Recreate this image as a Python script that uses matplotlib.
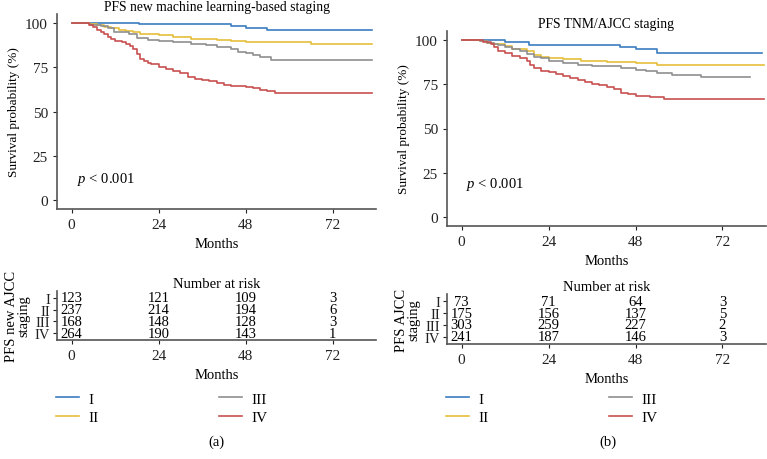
import matplotlib
matplotlib.use('Agg')
import matplotlib.pyplot as plt

plt.rcParams['font.family'] = ['Liberation Serif', 'DejaVu Serif']
plt.rcParams['mathtext.fontset'] = 'custom'
plt.rcParams['mathtext.it'] = 'Liberation Serif:italic'
plt.rcParams['mathtext.rm'] = 'Liberation Serif'

stages = ['I', 'II', 'III', 'IV']
colors = ['#3b7dc0', '#e6bf3c', '#8f8f8f', '#c8504f']
ticks = [0, 24, 48, 72]

# (a) new machine learning-based staging: step curves (months, survival %)
a_times = {
    'I': [0, 18.6, 43.9, 48.0, 54.0, 83.0],
    'II': [0, 5, 7, 9, 11, 13, 15, 17, 19, 21, 24, 28, 33, 40, 44, 48, 55, 66, 83.0],
    'III': [0, 5, 8, 10, 11.7, 15.8, 18, 21, 24, 28, 33, 37, 40, 44, 46, 48, 50, 52, 55, 83.0],
    'IV': [0, 4.8, 6, 7, 8, 9, 10, 11, 12, 14, 15, 16, 17, 18, 19, 20, 21, 22, 24, 26, 28,
           30, 32, 34, 36, 38, 40, 42, 44, 48, 50, 52, 54, 56, 83.0],
}
a_surv = {
    'I': [100, 99.1, 98.1, 97.2, 96.2, 96.2],
    'II': [100, 99.5, 98.8, 97.8, 97.0, 96.0, 95.3, 94.7, 94.0, 93.5, 93.0, 92.0, 91.0,
           90.3, 89.6, 89.4, 89.2, 87.9, 87.9],
    'III': [100, 99.0, 98.2, 97.0, 94.7, 93.5, 91.3, 90.3, 89.5, 89.0, 88.3, 87.6, 86.5,
            85.0, 83.7, 83.0, 82.0, 80.8, 78.8, 78.8],
    'IV': [100, 99.0, 97.5, 95.8, 94.7, 93.5, 91.9, 91.0, 90.0, 89.0, 88.0, 86.8, 85.3,
           82.5, 79.7, 78.3, 77.2, 76.6, 75.0, 74.2, 73.0, 71.5, 69.3, 68.3, 67.8, 67.0,
           66.0, 65.0, 64.2, 63.7, 63.0, 62.3, 61.8, 60.6, 60.6],
}

# (b) TNM/AJCC staging
b_times = {
    'I': [0, 12.1, 18.6, 43.8, 48.0, 54.0, 83.0],
    'II': [0, 5, 7, 9, 10, 12, 14, 18, 20, 22, 24, 28, 33, 40, 48, 54, 83.4],
    'III': [0, 5, 7, 9, 10, 12, 14, 16, 18, 20, 22, 24, 28, 32, 36, 40, 44, 48, 51, 54,
            58, 66, 79.7],
    'IV': [0, 6, 8, 9, 10, 12, 14, 16, 18, 19, 20, 22, 24, 26, 28, 30, 32, 34, 36, 38, 40,
           42, 44, 46, 48, 52, 56, 83.5],
}
b_surv = {
    'I': [100, 98.7, 97.3, 95.9, 94.7, 92.5, 92.5],
    'II': [100, 99.3, 98.5, 97.9, 97.5, 96.3, 95.0, 93.7, 91.5, 90.3, 89.5, 89.0, 88.3,
           87.6, 87.2, 85.9, 85.9],
    'III': [100, 99.2, 98.5, 97.6, 97.0, 96.0, 95.0, 93.5, 92.0, 90.5, 89.5, 88.2, 87.0,
            85.7, 85.3, 85.0, 84.0, 83.1, 82.3, 81.5, 80.0, 79.0, 79.0],
    'IV': [100, 99.0, 97.5, 96.0, 94.0, 92.5, 91.0, 89.5, 87.8, 86.0, 84.0, 82.5, 81.6,
           80.5, 79.5, 78.5, 77.5, 76.3, 75.2, 74.5, 73.5, 72.0, 70.0, 69.5, 68.4, 67.8,
           66.9, 66.9],
}

a_risk = {'I': [123, 121, 109, 3], 'II': [237, 214, 194, 6],
          'III': [168, 148, 128, 3], 'IV': [264, 190, 143, 1]}
b_risk = {'I': [73, 71, 64, 3], 'II': [175, 156, 137, 5],
          'III': [303, 259, 227, 2], 'IV': [241, 187, 146, 3]}

W, H = 767, 460
fig = plt.figure(figsize=(W / 100, H / 100), dpi=100)


def px_axes(left, top, right, bottom):
    return fig.add_axes([left / W, 1 - bottom / H, (right - left) / W, (bottom - top) / H])


def style(ax):
    ax.spines['top'].set_visible(False)
    ax.spines['right'].set_visible(False)
    for s in ('left', 'bottom'):
        ax.spines[s].set_color('#555555')
        ax.spines[s].set_linewidth(1.2)
    ax.tick_params(colors='#222222', labelsize=11, length=3, width=0.8)


def km_panel(box, times, surv, title, p_xy):
    ax = px_axes(*box)
    for st, c in zip(stages, colors):
        ax.step(times[st], surv[st], where='post', color=c, lw=1.2, label=st)
    ax.set_xlim(-4, 84)
    ax.set_ylim(-5, 105)
    ax.set_xticks(ticks)
    ax.set_yticks([0, 25, 50, 75, 100])
    ax.set_title(title, fontsize=9.8, pad=3)
    ax.set_xlabel('Months', fontsize=10.5, labelpad=4)
    ax.set_ylabel('Survival probability (%)', fontsize=9.5, labelpad=4)
    ax.text(p_xy[0], p_xy[1], r'$p$ < 0.001', fontsize=10.5, va='center')
    style(ax)
    return ax


def risk_panel(box, risk, ylabel):
    ax = px_axes(*box)
    for i, st in enumerate(stages):
        for t, n in zip(ticks, risk[st]):
            ax.text(t, 4 - i, str(n), ha='center', va='center', fontsize=10.5)
    ax.set_xlim(-4, 84)
    ax.set_ylim(0.4, 4.6)
    ax.set_xticks(ticks)
    ax.set_yticks([4, 3, 2, 1])
    ax.set_yticklabels(stages)
    ax.set_title('Number at risk', fontsize=10.5, pad=3)
    ax.set_xlabel('Months', fontsize=10.5, labelpad=4)
    ax.set_ylabel(ylabel, fontsize=10.5, labelpad=3, linespacing=0.95)
    style(ax)
    ax.tick_params(axis='y', pad=2, labelsize=10.5)
    return ax


ax_a = km_panel((57, 15, 376, 210), a_times, a_surv,
                'PFS new machine learning-based staging', (1.5, 12))
ax_b = km_panel((447, 32, 766, 227), b_times, b_surv,
                'PFS TNM/AJCC staging', (1.3, 19))
risk_panel((57, 292, 376, 341), a_risk, 'PFS new AJCC\nstaging')
risk_panel((447, 295, 766, 345), b_risk, 'PFS AJCC\nstaging')

for ax, x0 in ((ax_a, 56), (ax_b, 446)):
    handles, labels = ax.get_legend_handles_labels()
    fig.legend(handles, labels, ncol=2, loc='upper left', frameon=False,
               bbox_to_anchor=(x0 / W, 1 - 393 / H), borderpad=0, borderaxespad=0,
               handlelength=1.5, handletextpad=0.6, columnspacing=7.9,
               labelspacing=0.3, fontsize=11)

fig.text(216 / W, 1 - 442 / H, '(a)', ha='center', va='center', fontsize=10.5)
fig.text(608 / W, 1 - 442 / H, '(b)', ha='center', va='center', fontsize=10.5)

fig.savefig('out.png', dpi=100)
